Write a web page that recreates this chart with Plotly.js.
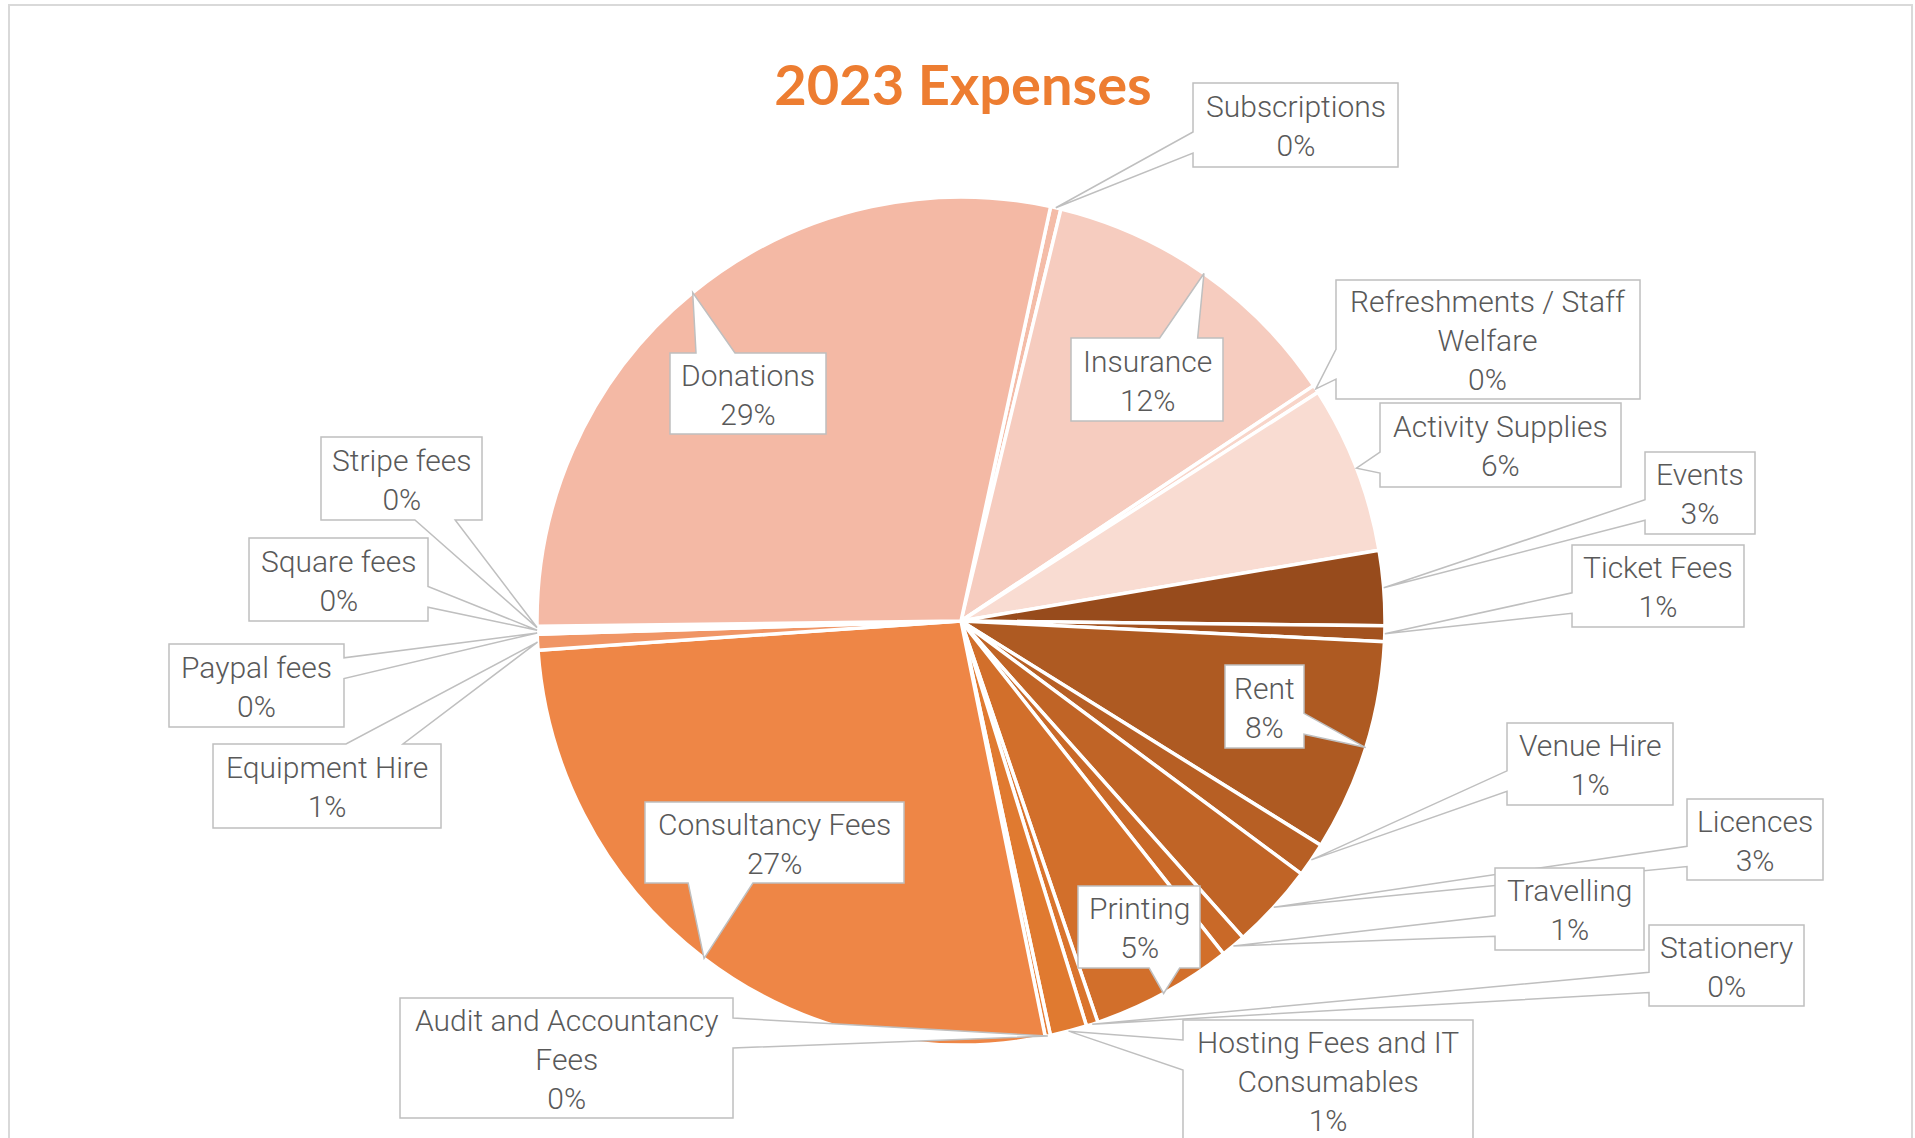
<!DOCTYPE html>
<html>
<head>
<meta charset="utf-8">
<script src="https://cdn.plot.ly/plotly-3.0.1.min.js"></script>
<style>html,body{margin:0;padding:0;background:#fff;overflow:hidden}</style>
</head>
<body>
<div id="chart" style="width:1915px;height:1138px"></div>
<script>
// ---- data (percent of 2023 expenses) ----
const categories = [
  'Subscriptions', 'Insurance', 'Refreshments / Staff Welfare', 'Activity Supplies',
  'Events', 'Ticket Fees', 'Rent', 'Venue Hire', 'Licences', 'Travelling',
  'Printing', 'Stationery', 'Hosting Fees and IT Consumables', 'Audit and Accountancy Fees',
  'Consultancy Fees', 'Equipment Hire', 'Paypal fees', 'Square fees', 'Stripe fees', 'Donations'
];
const values = [
  0.4, 11.85, 0.3, 6.4,
  2.85, 0.6, 8.1, 1.3, 3.25, 0.95,
  5.4, 0.45, 1.4, 0.2,
  27.1, 0.6, 0.1, 0.1, 0.1, 28.6
];
const chartTitle = '2023 Expenses';

// ---- styles ----
const sliceColors = [
  '#F4BCA8', '#F6CCBF', '#F8D5C9', '#F9DCD2',
  '#974B1C', '#A3521F', '#AE5A22', '#B75F24', '#C06426', '#C96928',
  '#D26F2B', '#DA742D', '#E07A30', '#E7803A',
  '#EE8646', '#F09565', '#F19F75', '#F2A885', '#F3B095', '#F4B9A5'
];
const wrapText = {
  'Refreshments / Staff Welfare': 'Refreshments / Staff<br>Welfare',
  'Hosting Fees and IT Consumables': 'Hosting Fees and IT<br>Consumables',
  'Audit and Accountancy Fees': 'Audit and Accountancy<br>Fees'
};
// label box placement in page pixels [x0, y0, x1, y1]
const labelBoxes = {
  'Subscriptions': [1193, 83, 1398, 167],
  'Insurance': [1071, 338, 1223, 421],
  'Refreshments / Staff Welfare': [1336, 280, 1640, 399],
  'Activity Supplies': [1380, 403, 1621, 487],
  'Events': [1645, 452, 1755, 534],
  'Ticket Fees': [1572, 545, 1744, 627],
  'Rent': [1225, 665, 1304, 748],
  'Venue Hire': [1507, 723, 1673, 805],
  'Licences': [1687, 799, 1823, 880],
  'Travelling': [1495, 868, 1644, 950],
  'Printing': [1078, 886, 1200, 968],
  'Stationery': [1649, 925, 1804, 1006],
  'Hosting Fees and IT Consumables': [1183, 1020, 1473, 1140],
  'Audit and Accountancy Fees': [400, 998, 733, 1118],
  'Consultancy Fees': [645, 802, 904, 883],
  'Equipment Hire': [213, 744, 441, 828],
  'Paypal fees': [169, 644, 344, 727],
  'Square fees': [249, 538, 428, 621],
  'Stripe fees': [321, 437, 482, 520],
  'Donations': [670, 353, 826, 434]
};

const W = 1915, H = 1138;
const CX = 961, CY = 621, R = 424;
const ROTATION = 12.2;
const px = x => x / W;
const py = y => 1 - y / H;

const total = values.reduce((a, b) => a + b, 0);

function calloutPath(b, tx, ty) {
  const [x0, y0, x1, y1] = b;
  const w = x1 - x0, h = y1 - y0, hc = (x0 + x1) / 2, vc = (y0 + y1) / 2;
  const dx = tx - hc, dy = ty - vc;
  const dq = dx * h / w;
  const vertical = Math.abs(dy) > Math.abs(dq);
  const xa = x0 + w * (dx > 0 ? 7 : 2) / 12, xb = x0 + w * (dx > 0 ? 10 : 5) / 12;
  const ya = y0 + h * (dy > 0 ? 7 : 2) / 12, yb = y0 + h * (dy > 0 ? 10 : 5) / 12;
  let pts;
  if (vertical) {
    if (dy < 0) pts = [[x0, y0], [xa, y0], [tx, ty], [xb, y0], [x1, y0], [x1, y1], [x0, y1]];
    else pts = [[x0, y0], [x1, y0], [x1, y1], [xb, y1], [tx, ty], [xa, y1], [x0, y1]];
  } else {
    if (dx < 0) pts = [[x0, y0], [x1, y0], [x1, y1], [x0, y1], [x0, yb], [tx, ty], [x0, ya]];
    else pts = [[x0, y0], [x1, y0], [x1, ya], [tx, ty], [x1, yb], [x1, y1], [x0, y1]];
  }
  return 'M' + pts.map(p => px(p[0]).toFixed(5) + ',' + py(p[1]).toFixed(5)).join(' L') + ' Z';
}

const shapes = [{
  type: 'rect', xref: 'paper', yref: 'paper', layer: 'below',
  x0: px(9), x1: px(1912), y0: py(5), y1: py(1150),
  line: {color: '#D9D9D9', width: 2}, fillcolor: 'rgba(0,0,0,0)'
}];
const annotations = [];

let cum = ROTATION;
categories.forEach((name, i) => {
  const span = values[i] / total * 360;
  const mid = (cum + span / 2) * Math.PI / 180;
  cum += span;
  const tx = CX + R * Math.sin(mid), ty = CY - R * Math.cos(mid);
  const b = labelBoxes[name];
  shapes.push({
    type: 'path', xref: 'paper', yref: 'paper', layer: 'above',
    path: calloutPath(b, tx, ty),
    fillcolor: '#FFFFFF', line: {color: '#BFBFBF', width: 1.5}
  });
  const pct = Math.round(values[i] / total * 100);
  annotations.push({
    xref: 'paper', yref: 'paper', showarrow: false,
    x: px((b[0] + b[2]) / 2), y: py((b[1] + b[3]) / 2 + 1),
    xanchor: 'center', yanchor: 'middle', align: 'center',
    text: (wrapText[name] || name) + '<br>' + pct + '%',
    font: {family: 'Roboto', weight: 300, size: 30, color: '#595959'}
  });
});

const trace = {
  type: 'pie',
  labels: categories,
  values: values,
  sort: false,
  direction: 'clockwise',
  rotation: ROTATION,
  textinfo: 'none',
  hoverinfo: 'label+percent',
  marker: {colors: sliceColors, line: {color: '#FFFFFF', width: 3.5}},
  domain: {x: [px(CX - R), px(CX + R)], y: [py(CY + R), py(CY - R)]},
  showlegend: false
};

const layout = {
  width: W, height: H,
  margin: {l: 0, r: 0, t: 0, b: 0},
  paper_bgcolor: '#FFFFFF',
  showlegend: false,
  title: {
    text: '<b>' + chartTitle + '</b>',
    font: {family: 'Lato', size: 56, color: '#ED7D31'},
    x: px(963), xanchor: 'center', xref: 'paper',
    y: py(85), yanchor: 'middle', yref: 'paper'
  },
  shapes: shapes,
  annotations: annotations
};

Plotly.newPlot('chart', [trace], layout, {displayModeBar: false, staticPlot: true});
</script>
</body>
</html>
